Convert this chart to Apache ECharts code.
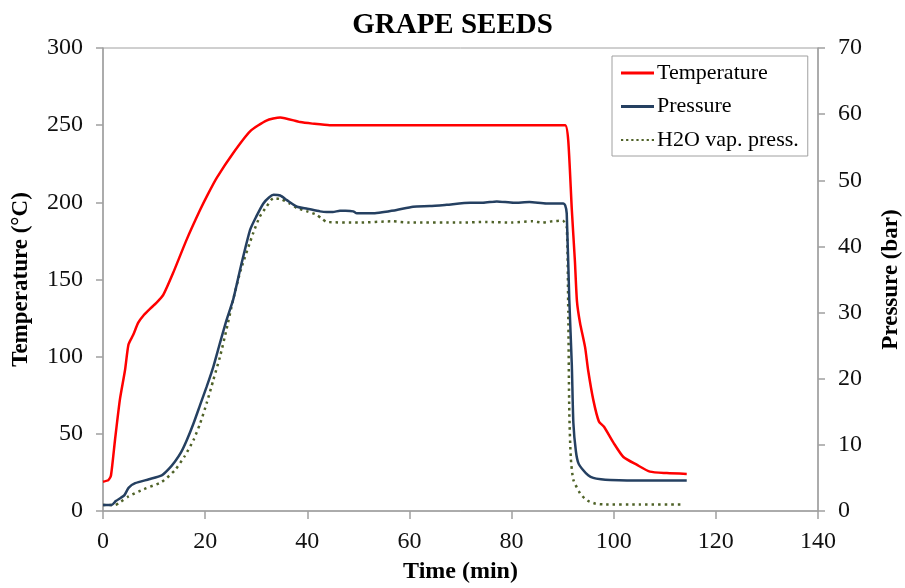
<!DOCTYPE html>
<html>
<head>
<meta charset="utf-8">
<script src="https://cdn.jsdelivr.net/npm/echarts@6/dist/echarts.min.js"></script>
<style>
  html, body { margin: 0; padding: 0; background: #fff; }
  #chart { width: 905px; height: 588px; }
</style>
</head>
<body>
<div id="chart"></div>
<script>
// Reactor run: grape seeds — temperature (°C) and pressures (bar) over time (min)
const timeTicks = [0, 20, 40, 60, 80, 100, 120, 140];
const tempTicks = [0, 50, 100, 150, 200, 250, 300];
const pressTicks = [0, 10, 20, 30, 40, 50, 60, 70];

const tempTime = [0, 1.05, 1.56, 2.35, 3.3, 4.3, 5, 5.9, 6.9, 8, 9.2, 10.5, 11.8, 13.7, 16.4, 19, 20.5, 22.3, 25.5, 28.8, 32, 34.7, 38.6, 41, 44.4, 50, 60, 70, 80, 88, 90.5, 91.1, 91.8, 92.4, 92.8, 93.4, 94.4, 95, 96, 97.1, 98.1, 100, 101.9, 104.5, 107.1, 110.4, 114.3];
const temperature = [19, 20, 23, 46, 72, 91, 108, 114, 122, 127, 131, 135, 140, 154, 176, 195, 205, 216, 232, 246, 253, 255, 252, 251, 250, 250, 250, 250, 250, 250, 250, 240, 195, 162, 136, 122, 106, 91, 72, 58, 54.6, 44, 35, 30, 25.5, 24.6, 24];

const pressTime = [0, 1.7, 2.5, 3.5, 4.2, 5.0, 6.3, 9, 11.5, 12.8, 14.1, 15.3, 16.4, 17.7, 19, 20.3, 21.6, 22.9, 24.2, 25.5, 27, 28.8, 30, 31.4, 32.5, 33.4, 34.7, 36, 38, 40, 42.5, 43.8, 45, 46.4, 47.5, 49, 49.7, 53, 55, 57.5, 60.7, 64, 67.3, 71.9, 74.4, 77.1, 80.4, 83.5, 86.8, 90.1, 90.5, 90.8, 91.3, 91.8, 92.1, 92.6, 93.1, 94, 95, 96, 97.5, 99.3, 105, 114.3];
const pressure = [0.9, 0.9, 1.5, 2.0, 2.4, 3.5, 4.2, 4.8, 5.4, 6.3, 7.5, 8.9, 10.7, 13.2, 16, 18.8, 21.8, 25.4, 28.9, 32, 37, 42.5, 44.5, 46.5, 47.4, 47.8, 47.7, 47.0, 46.0, 45.7, 45.3, 45.2, 45.2, 45.4, 45.4, 45.3, 45.0, 45.0, 45.2, 45.5, 46.0, 46.1, 46.3, 46.6, 46.6, 46.8, 46.6, 46.7, 46.5, 46.5, 46.2, 45, 32, 22, 13.3, 9, 7.2, 6.2, 5.4, 5.0, 4.8, 4.7, 4.6, 4.6];

const vapTime = [0, 2.35, 3.5, 5.0, 8, 11.5, 14.1, 16, 17.7, 19, 20.3, 21.6, 22.9, 24.2, 25.5, 27, 29.4, 30.7, 32, 33.4, 35, 36.5, 38, 40, 41.8, 43, 43.8, 50, 56.6, 60, 70, 75, 80, 84.1, 86, 88, 90, 90.8, 91.1, 91.3, 91.6, 92.1, 93.4, 94.3, 95.3, 96.5, 97.9, 105, 113.5];
const vaporPressure = [0.9, 0.9, 1.4, 2.2, 3.3, 4.4, 6.2, 8.3, 10.7, 13.2, 16.3, 19.8, 23.3, 27.5, 32, 36.5, 42, 44.5, 46, 47.3, 47.1, 46.5, 45.8, 45.3, 44.8, 44.1, 43.7, 43.6, 43.8, 43.6, 43.6, 43.7, 43.6, 43.8, 43.6, 43.8, 43.9, 43, 30, 15, 8, 4.7, 2.7, 1.9, 1.4, 1.1, 1.0, 1.0, 1.0];

const zip = (xs, ys) => xs.map((x, i) => [x, ys[i]]);

const serif = 'Liberation Serif, Times New Roman, serif';
const axisGray = '#a0a0a0';

// legend swatches: a solid bar and a row of small square dots
const solidIcon = 'path://M0,0H33V3H0Z';
let dotPath = 'path://';
for (let i = 0; i < 7; i++) {
  const x0 = (i * 4.6).toFixed(1);
  dotPath += 'M' + x0 + ',0h2v2h-2z';
}

const chart = echarts.init(document.getElementById('chart'), null, { renderer: 'canvas' });

chart.setOption({
  animation: false,
  backgroundColor: '#ffffff',
  title: {
    text: 'GRAPE SEEDS',
    left: 'center',
    top: 6,
    textStyle: { fontFamily: serif, fontSize: 29, fontWeight: 'bold', color: '#000' }
  },
  grid: {
    left: 103, right: 87, top: 48, bottom: 77,
    outerBoundsMode: 'none',
    show: true, borderColor: axisGray, borderWidth: 1
  },
  legend: {
    orient: 'vertical',
    left: 612, top: 56,
    padding: [6, 9, 5, 9],
    backgroundColor: '#fff',
    borderColor: axisGray, borderWidth: 1,
    itemWidth: 33, itemHeight: 3, itemGap: 11.5,
    symbolKeepAspect: true,
    textStyle: { fontFamily: serif, fontSize: 22, color: '#000', lineHeight: 22, padding: [0, 0, 0, -2] },
    data: [
      { name: 'Temperature', icon: solidIcon },
      { name: 'Pressure', icon: solidIcon },
      { name: 'H2O vap. press.', icon: dotPath }
    ]
  },
  xAxis: {
    type: 'value', min: 0, max: 140, interval: 20,
    name: 'Time (min)', nameLocation: 'middle', nameGap: 49,
    nameTextStyle: { fontFamily: serif, fontSize: 24, fontWeight: 'bold', color: '#000' },
    axisLine: { show: true, lineStyle: { color: axisGray, width: 1.5 } },
    axisTick: { show: true, length: 8, lineStyle: { color: axisGray, width: 1.5 } },
    axisLabel: { fontFamily: serif, fontSize: 24, color: '#111', margin: 19,
      formatter: v => timeTicks.includes(v) ? String(v) : '' },
    splitLine: { show: false }
  },
  yAxis: [
    {
      type: 'value', min: 0, max: 300, interval: 50, position: 'left',
      name: 'Temperature (°C)', nameLocation: 'middle', nameGap: 70, nameRotate: 90,
      nameTextStyle: { fontFamily: serif, fontSize: 23, fontWeight: 'bold', color: '#000' },
      axisLine: { show: true, lineStyle: { color: axisGray, width: 1.5 } },
      axisTick: { show: true, length: 7, lineStyle: { color: axisGray, width: 1.5 } },
      axisLabel: { fontFamily: serif, fontSize: 24, color: '#111', margin: 20,
        formatter: v => tempTicks.includes(v) ? String(v) : '' },
      splitLine: { show: false }
    },
    {
      type: 'value', min: 0, max: 70, interval: 10, position: 'right',
      name: 'Pressure (bar)', nameLocation: 'middle', nameGap: 62, nameRotate: 90,
      nameTextStyle: { fontFamily: serif, fontSize: 23, fontWeight: 'bold', color: '#000' },
      axisLine: { show: true, lineStyle: { color: axisGray, width: 1.5 } },
      axisTick: { show: true, length: 7, lineStyle: { color: axisGray, width: 1.5 } },
      axisLabel: { fontFamily: serif, fontSize: 24, color: '#111', margin: 20,
        formatter: v => pressTicks.includes(v) ? String(v) : '' },
      splitLine: { show: false }
    }
  ],
  series: [
    {
      name: 'Temperature', type: 'line', yAxisIndex: 0,
      symbol: 'none', smooth: 0.2,
      data: zip(tempTime, temperature),
      lineStyle: { color: '#ff0000', width: 2.5 },
      itemStyle: { color: '#ff0000' },
      z: 3
    },
    {
      name: 'Pressure', type: 'line', yAxisIndex: 1,
      symbol: 'none', smooth: 0.2,
      data: zip(pressTime, pressure),
      lineStyle: { color: '#254061', width: 2.5 },
      itemStyle: { color: '#254061' },
      z: 2
    },
    {
      name: 'H2O vap. press.', type: 'line', yAxisIndex: 1,
      symbol: 'none', smooth: 0.2,
      data: zip(vapTime, vaporPressure),
      lineStyle: { color: '#4f6228', width: 2.5, type: [2.5, 4] },
      itemStyle: { color: '#4f6228' },
      z: 1
    }
  ]
});
</script>
</body>
</html>
